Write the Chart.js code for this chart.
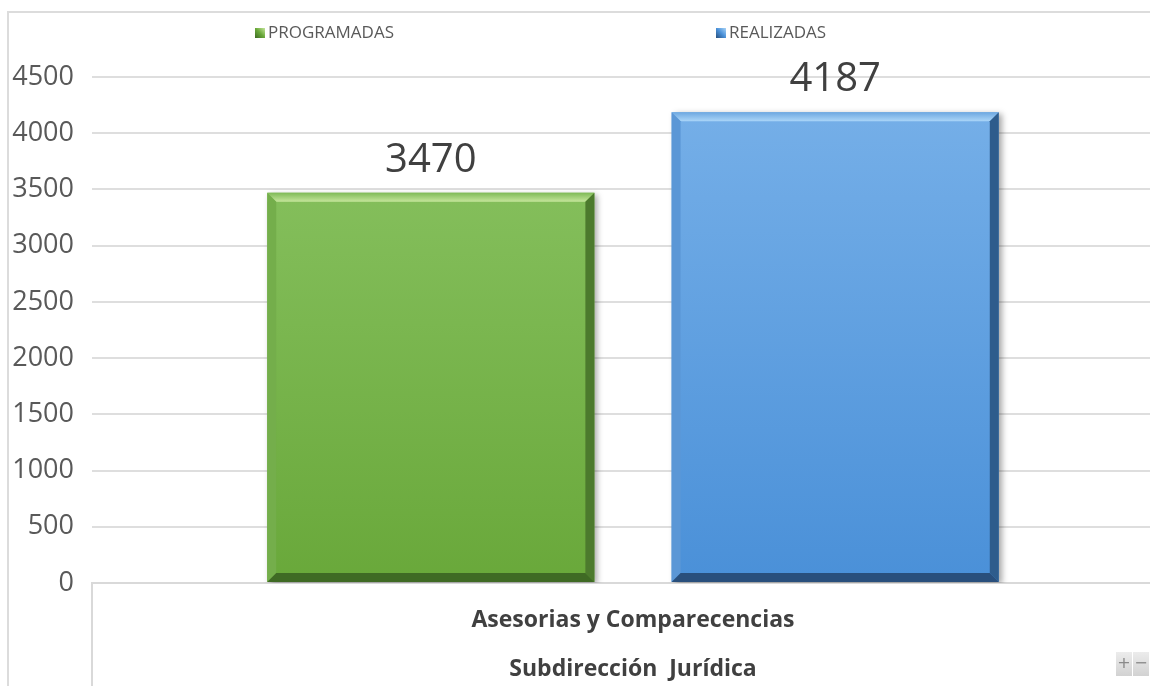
<!DOCTYPE html>
<html>
<head>
<meta charset="utf-8">
<script src="https://cdn.jsdelivr.net/npm/chart.js@4.4.0/dist/chart.umd.min.js"></script>
<style>
  html, body { margin: 0; padding: 0; background: #fff; overflow: hidden; width: 1150px; height: 686px; }
  #marco { position: absolute; left: 7px; top: 11px; width: 1300px; height: 800px; border-left: 2px solid #dcdcdc; border-top: 2px solid #dcdcdc; }
  #tarjeta { position: absolute; left: 0; top: 0; width: 1190px; height: 700px; }
</style>
</head>
<body>
<div id="marco"></div>
<div id="tarjeta"><canvas id="myChart"></canvas></div>
<script>
// datos
const categorias = [['Asesorias y Comparecencias', 'Subdirección  Jurídica']]
const nombresSeries = ['PROGRAMADAS', 'REALIZADAS']
const programadas = [3470]
const realizadas = [4187]
const ticksY = [0, 500, 1000, 1500, 2000, 2500, 3000, 3500, 4000, 4500]

// colores (arriba, abajo, bisel arriba 1, bisel arriba 2, izq, der, abajo)
const verde = ['#8cc565', '#69a83a', '#7fba57', '#c6e69c', '#74ae4b', '#4c7a2d', '#3f6a24']
const azul = ['#78b1e9', '#4a90d8', '#6ca7e0', '#aad5f8', '#5b97d6', '#2e5c8c', '#294f7c']

let myChart

function degradado(contexto, col) {
  const chart = contexto.chart
  const area = chart.chartArea
  if (!area) return col[1]
  const g = chart.ctx.createLinearGradient(0, area.top, 0, area.bottom)
  g.addColorStop(0, col[0])
  g.addColorStop(1, col[1])
  return g
}

function poligono(ctx, puntos, color) {
  ctx.beginPath()
  ctx.moveTo(puntos[0][0], puntos[0][1])
  for (let i = 1; i < puntos.length; i++) ctx.lineTo(puntos[i][0], puntos[i][1])
  ctx.closePath()
  ctx.fillStyle = color
  ctx.fill()
}

const sombra = {
  id: 'sombra',
  beforeDatasetsDraw(chart) {
    const ctx = chart.ctx
    ctx.save()
    ctx.shadowColor = 'rgba(0,0,0,0.35)'
    ctx.shadowBlur = 6
    ctx.shadowOffsetX = 3
    ctx.shadowOffsetY = 2
  },
  afterDatasetsDraw(chart) {
    chart.ctx.restore()
  }
}

const bisel = {
  id: 'bisel',
  afterDatasetsDraw(chart) {
    const ctx = chart.ctx
    const paletas = [verde, azul]
    chart.data.datasets.forEach((ds, i) => {
      const col = paletas[i]
      chart.getDatasetMeta(i).data.forEach((barra, j) => {
        const p = barra.getProps(['x', 'y', 'base', 'width'], true)
        const l = p.x - p.width / 2, r = p.x + p.width / 2, t = p.y, b = p.base, s = 9
        const gArriba = ctx.createLinearGradient(0, t, 0, t + s)
        gArriba.addColorStop(0, col[2])
        gArriba.addColorStop(1, col[3])
        poligono(ctx, [[l, t], [r, t], [r - s, t + s], [l + s, t + s]], gArriba)
        poligono(ctx, [[l, t], [l + s, t + s], [l + s, b - s], [l, b]], col[4])
        poligono(ctx, [[r, t], [r, b], [r - s, b - s], [r - s, t + s]], col[5])
        poligono(ctx, [[l, b], [l + s, b - s], [r - s, b - s], [r, b]], col[6])

        // valor encima de la barra
        ctx.save()
        ctx.font = '40px "Open Sans"'
        ctx.fillStyle = '#404040'
        ctx.textAlign = 'center'
        ctx.textBaseline = 'alphabetic'
        ctx.fillText(String(ds.data[j]), p.x, t - 21)
        ctx.restore()
      })
    })
  }
}

const extras = {
  id: 'extras',
  afterDraw(chart) {
    const ctx = chart.ctx
    const area = chart.chartArea
    ctx.save()
    // linea vertical del eje de categorias
    ctx.strokeStyle = '#d9d9d9'
    ctx.lineWidth = 2
    ctx.beginPath()
    ctx.moveTo(area.left, area.bottom)
    ctx.lineTo(area.left, chart.height)
    ctx.moveTo(area.right, area.bottom)
    ctx.lineTo(area.right, chart.height)
    ctx.stroke()

    // leyenda
    const posLeyenda = [255, 716]
    const paletas = [verde, azul]
    chart.data.datasets.forEach((ds, i) => {
      const x = posLeyenda[i], y = 28
      const g = ctx.createLinearGradient(x, y + 10, x + 10, y)
      g.addColorStop(0, paletas[i][6])
      g.addColorStop(0.5, paletas[i][1])
      g.addColorStop(1, paletas[i][3])
      ctx.fillStyle = g
      ctx.fillRect(x, y, 10, 10)
      ctx.font = '17px "Open Sans"'
      ctx.fillStyle = '#595959'
      ctx.textAlign = 'left'
      ctx.textBaseline = 'middle'
      ctx.fillText(ds.label, x + 13, y + 5)
    })

    // botones + y -
    const botones = ['+', '−']
    botones.forEach((t, i) => {
      const x = 1116 + i * 17, y = 652
      const g = ctx.createLinearGradient(0, y, 0, y + 24)
      g.addColorStop(0, '#ececec')
      g.addColorStop(1, '#d2d2d2')
      ctx.fillStyle = g
      ctx.fillRect(x, y, 16, 24)
      ctx.font = '16px "DejaVu Sans"'
      ctx.fillStyle = '#8a8a8a'
      ctx.textAlign = 'center'
      ctx.textBaseline = 'middle'
      ctx.fillText(t, x + 8, y + 12)
    })
    ctx.restore()
  }
}

function grafico() {
  const ctx = document.getElementById('myChart').getContext('2d')
  if (myChart) {
    myChart.destroy()
  }
  myChart = new Chart(ctx, {
    type: 'bar',
    data: {
      labels: categorias,
      datasets: [{
        label: nombresSeries[0],
        data: programadas,
        backgroundColor: (c) => degradado(c, verde),
        borderWidth: 0,
        barPercentage: 0.809,
        categoryPercentage: 0.7475
      }, {
        label: nombresSeries[1],
        data: realizadas,
        backgroundColor: (c) => degradado(c, azul),
        borderWidth: 0,
        barPercentage: 0.809,
        categoryPercentage: 0.7475
      }]
    },
    options: {
      responsive: true,
      maintainAspectRatio: false,
      animation: false,
      layout: {
        padding: { top: 77, right: 16, left: 0, bottom: 0 }
      },
      plugins: {
        legend: { display: false },
        tooltip: { enabled: false }
      },
      scales: {
        y: {
          min: ticksY[0],
          max: ticksY[ticksY.length - 1],
          afterBuildTicks: (s) => { s.ticks = ticksY.map(v => ({ value: v })) },
          afterFit: (s) => { s.width = 92 },
          border: { display: false },
          grid: {
            color: '#dedede',
            lineWidth: 2,
            drawTicks: false
          },
          ticks: {
            padding: 18,
            color: '#595959',
            callback: (v) => String(v),
            font: { size: 27, family: 'Open Sans' }
          }
        },
        x: {
          afterFit: (s) => { s.height = 117 },
          border: { display: true, color: '#d9d9d9', width: 2 },
          grid: { display: false, drawTicks: false },
          ticks: {
            padding: 12,
            color: '#404040',
            font: { size: 23, family: 'Open Sans', weight: 'bold', lineHeight: 2.17 }
          }
        }
      }
    },
    plugins: [sombra, bisel, extras]
  })
}

window.onload = function () {
  grafico()
}
</script>
</body>
</html>
